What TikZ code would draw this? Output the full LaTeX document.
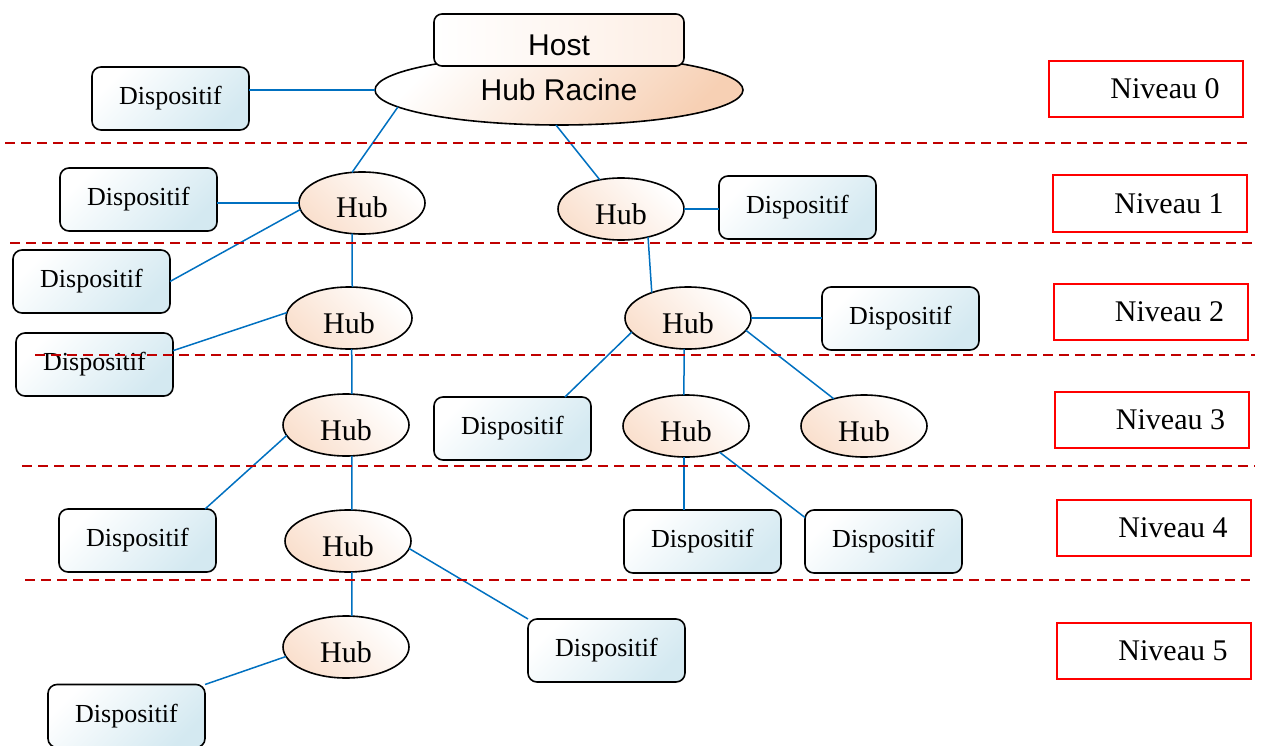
\documentclass[tikz,border=0pt]{standalone}
\usepackage{fontspec}
\setmainfont{Liberation Serif}
\newfontfamily\arialf{Liberation Sans}
\usetikzlibrary{shapes.geometric}
\definecolor{boxblue}{RGB}{212,233,241}
\definecolor{hubpeach}{RGB}{250,224,206}
\definecolor{rootpeach}{RGB}{247,208,180}
\definecolor{hostpeach}{RGB}{253,238,228}
\definecolor{linkblue}{RGB}{0,112,192}
\definecolor{sepred}{RGB}{192,0,0}
\definecolor{lvlred}{RGB}{255,0,0}
\begin{document}
\begin{tikzpicture}[x=1pt,y=-1pt,
 dev/.style={draw, line width=1.6pt, rounded corners=9pt, minimum width=157pt, minimum height=63pt, inner sep=0pt, outer sep=0pt, top color=white, bottom color=boxblue, shading angle=45, font=\fontsize{26}{30}\selectfont},
 hub/.style={ellipse, draw, line width=1.6pt, minimum width=126pt, minimum height=62pt, inner sep=0pt, outer sep=0pt, top color=white, bottom color=hubpeach, shading angle=-45, text height=30pt, text depth=0pt, font=\fontsize{30}{34}\selectfont},
 lvl/.style={draw=lvlred, line width=2pt, minimum height=56pt, minimum width=194pt, inner sep=0pt, outer sep=0pt, font=\fontsize{30}{34}\selectfont},
 link/.style={draw=linkblue, line width=1.5pt},
 sepline/.style={draw=sepred, line width=1.8pt, dash pattern=on 10pt off 6pt}]
\useasboundingbox (0,0) rectangle (1263,746);

% root
\node[ellipse, draw, line width=1.6pt, minimum width=368pt, minimum height=70pt, inner sep=0pt, outer sep=0pt, top color=white, bottom color=rootpeach, shading angle=45, font=\arialf\fontsize{30}{34}\selectfont] (root) at (559,90) {Hub Racine};
\node[draw, line width=1.6pt, rounded corners=8pt, minimum width=250pt, minimum height=52pt, inner sep=0pt, outer sep=0pt, left color=white, right color=hostpeach, text height=31pt, text depth=0pt, font=\arialf\fontsize{30}{34}\selectfont] (host) at (559,40) {Host};

% devices
\node[dev] (d0) at (170.5,98.5) {Dispositif};
\node[dev] (d1) at (138.5,199.5) {Dispositif};
\node[dev] (d2) at (91.5,281.5) {Dispositif};
\node[dev] (d3) at (94.5,364.5) {Dispositif};
\node[dev] (d4) at (137.5,540.5) {Dispositif};
\node[dev] (d5) at (797.5,207.5) {Dispositif};
\node[dev] (d6) at (900.5,318.5) {Dispositif};
\node[dev] (d7) at (606.5,650.5) {Dispositif};
\node[dev] (d8) at (126.5,716) {Dispositif};
\node[dev] (d9) at (512.5,428.5) {Dispositif};
\node[dev] (d10) at (702.5,541.5) {Dispositif};
\node[dev] (d11) at (883.5,541.5) {Dispositif};

% hubs
\node[hub] (h1a) at (362,203) {Hub};
\node[hub] (h1b) at (621,209) {Hub};
\node[hub] (h2a) at (349,318) {Hub};
\node[hub] (h2b) at (688,318) {Hub};
\node[hub] (h3a) at (346,425) {Hub};
\node[hub] (h3b) at (686,426) {Hub};
\node[hub] (h3c) at (864,426) {Hub};
\node[hub] (h4a) at (348,541) {Hub};
\node[hub] (h5) at (346,647) {Hub};

% levels
\node[lvl] (l0) at (1146,89) {\hspace*{38pt}Niveau 0};
\node[lvl] (l1) at (1150,203.5) {\hspace*{38pt}Niveau 1};
\node[lvl] (l2) at (1150.5,311.5) {\hspace*{38pt}Niveau 2};
\node[lvl] (l3) at (1151.5,420) {\hspace*{38pt}Niveau 3};
\node[lvl] (l4) at (1154,528) {\hspace*{38pt}Niveau 4};
\node[lvl] (l5) at (1154,651) {\hspace*{38pt}Niveau 5};

% links
\draw[link] (root.west) -- (root.west -| d0.east);
\draw[link] (root.186) -- (h1a.108);
\draw[link] (root.265) -- (h1b.126);
\draw[link] (h1a.west) -- (h1a.west -| d1.east);
\draw[link] (d2.east) -- (h1a.186);
\draw[link] (h1a.252) -- (h2a.84);
\draw[link] (d3.10.5) -- (h2a.175);
\draw[link] (h2a.275) -- (h3a.79);
\draw[link] (h3a.190) -- (d4.25);
\draw[link] (h3a.281) -- (h4a.83);
\draw[link] (h4a.277) -- (h5.79);
\draw[link] (h4a.353) -- (d7.north west);
\draw[link] (h5.189) -- (d8.north east);
\draw[link] (h1b.east) -- (h1b.east -| d5.west);
\draw[link] (h1b.314) -- (h2b.145);
\draw[link] (h2b.east) -- (h2b.east -| d6.west);
\draw[link] (h2b.194) -- (d9.31);
\draw[link] (h2b.263) -- (h3b.94);
\draw[link] (h2b.348) -- (h3c.138);
\draw[link] (h3b.266) -- (h3b.266 |- d10.north);
\draw[link] (h3b.322) -- (d11.163);

% separators
\draw[sepline] (5,143) -- (1250,143);
\draw[sepline] (10,243) -- (1255,243);
\draw[sepline] (35,355) -- (1255,355);
\draw[sepline] (22,466) -- (1255,466);
\draw[sepline] (25,580) -- (1250,580);
\end{tikzpicture}
\end{document}
